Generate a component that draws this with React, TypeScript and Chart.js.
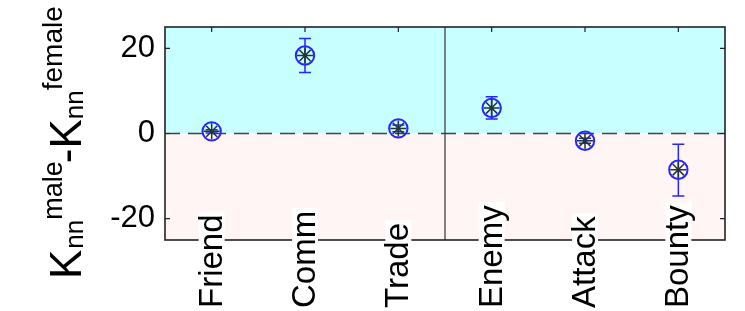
import React, { useEffect, useRef } from 'react';
import { Chart, registerables } from 'chart.js';
Chart.register(...registerables);

const categories = ['Friend', 'Comm', 'Trade', 'Enemy', 'Attack', 'Bounty'];
const positions = [1, 2, 3, 4, 5, 6];
const values = [0.5, 18.3, 1.2, 6.0, -1.7, -8.5];
const errLow = [0.1, 14.3, 0.4, 3.4, -2.3, -14.7];
const errHigh = [0.9, 22.3, 2.0, 8.6, -1.1, -2.5];
const yTicks = [-20, 0, 20];
const groupSplit = 3.5;

const FONT = '"Liberation Sans", Arial, Helvetica, sans-serif';
const BLUE = '#2626ff';

const decor = {
  id: 'decor',
  beforeDraw(chart: any) {
    const { ctx, chartArea: a, scales } = chart;
    const x = scales.x, y = scales.y;
    const y0 = y.getPixelForValue(0);
    const w = a.right - a.left;
    ctx.save();
    ctx.fillStyle = '#c8ffff';
    ctx.fillRect(a.left, a.top, w, y0 - a.top);
    ctx.fillStyle = '#fff5f5';
    ctx.fillRect(a.left, y0, w, a.bottom - y0);
    ctx.strokeStyle = '#444';
    ctx.lineWidth = 1.5;
    ctx.setLineDash([15, 8]);
    ctx.beginPath();
    ctx.moveTo(a.left, y0);
    ctx.lineTo(a.right, y0);
    ctx.stroke();
    ctx.setLineDash([]);
    const xs = x.getPixelForValue(groupSplit);
    ctx.strokeStyle = '#333';
    ctx.lineWidth = 1.2;
    ctx.beginPath();
    ctx.moveTo(xs, a.top);
    ctx.lineTo(xs, a.bottom);
    ctx.stroke();
    ctx.strokeStyle = '#222';
    ctx.lineWidth = 1.6;
    ctx.strokeRect(a.left, a.top, w, a.bottom - a.top);
    ctx.lineWidth = 1.2;
    ctx.beginPath();
    yTicks.forEach((v) => {
      const py = y.getPixelForValue(v);
      ctx.moveTo(a.left, py); ctx.lineTo(a.left + 5, py);
      ctx.moveTo(a.right, py); ctx.lineTo(a.right - 5, py);
    });
    positions.forEach((p) => {
      const px = x.getPixelForValue(p);
      ctx.moveTo(px, a.top); ctx.lineTo(px, a.top + 5);
      ctx.moveTo(px, a.bottom); ctx.lineTo(px, a.bottom - 5);
    });
    ctx.stroke();
    ctx.restore();
  },
  beforeDatasetsDraw(chart: any) {
    const { ctx, scales } = chart;
    const x = scales.x, y = scales.y;
    ctx.save();
    ctx.strokeStyle = BLUE;
    ctx.lineWidth = 1.5;
    positions.forEach((p, i) => {
      const px = x.getPixelForValue(p);
      const lo = y.getPixelForValue(errLow[i]);
      const hi = y.getPixelForValue(errHigh[i]);
      ctx.beginPath();
      ctx.moveTo(px, lo); ctx.lineTo(px, hi);
      ctx.moveTo(px - 6, lo); ctx.lineTo(px + 6, lo);
      ctx.moveTo(px - 6, hi); ctx.lineTo(px + 6, hi);
      ctx.stroke();
    });
    ctx.restore();
  },
  afterDraw(chart: any) {
    const { ctx, scales } = chart;
    const x = scales.x;
    ctx.save();
    ctx.font = `33px ${FONT}`;
    ctx.textBaseline = 'middle';
    ctx.textAlign = 'left';
    categories.forEach((c, i) => {
      const px = x.getPixelForValue(positions[i]);
      const tw = ctx.measureText(c).width;
      ctx.save();
      ctx.translate(px, 308);
      ctx.rotate(-Math.PI / 2);
      ctx.fillStyle = '#fff';
      ctx.fillRect(-2, -13, tw + 5, 26);
      ctx.fillStyle = '#000';
      ctx.fillText(c, 0, 1);
      ctx.restore();
    });
    const parts = [
      { t: 'K', s: 44, dy: 0, g: 1 },
      { t: 'nn', s: 26, dy: 2, g: 0 },
      { t: 'male', s: 27, dy: -19, g: -2 },
      { t: '-', s: 44, dy: 0, g: 0 },
      { t: 'K', s: 44, dy: 0, g: 0 },
      { t: 'nn', s: 26, dy: 2, g: 0 },
      { t: 'female', s: 28, dy: -19, g: 0 },
    ];
    ctx.translate(81, 279);
    ctx.rotate(-Math.PI / 2);
    ctx.textBaseline = 'alphabetic';
    ctx.fillStyle = '#000';
    let tx = 0;
    parts.forEach((p) => {
      ctx.font = `${p.s}px ${FONT}`;
      ctx.fillText(p.t, tx, p.dy);
      tx += ctx.measureText(p.t).width + p.g;
    });
    ctx.restore();
  },
};

export default function App() {
  const ref = useRef<HTMLCanvasElement>(null);
  useEffect(() => {
    if (!ref.current) return;
    const pts = positions.map((p, i) => ({ x: p, y: values[i] }));
    const chart = new Chart(ref.current, {
      type: 'scatter',
      data: {
        datasets: [
          {
            data: pts,
            pointStyle: 'circle',
            pointRadius: 9.2,
            borderColor: BLUE,
            borderWidth: 2,
            backgroundColor: 'rgba(0,0,0,0)',
            showLine: false,
          } as any,
          {
            data: pts,
            pointStyle: 'star',
            pointRadius: 8,
            borderColor: '#253535',
            borderWidth: 1.5,
            backgroundColor: 'rgba(0,0,0,0)',
            showLine: false,
          } as any,
        ],
      },
      options: {
        responsive: false,
        devicePixelRatio: 1,
        animation: false,
        events: [],
        layout: { padding: { top: 27, right: 20, bottom: 71, left: 0 } },
        plugins: { legend: { display: false }, tooltip: { enabled: false } },
        scales: {
          x: { type: 'linear', min: 0.5, max: 6.5, display: false },
          y: {
            type: 'linear',
            min: -25,
            max: 25,
            grid: { display: false, drawTicks: false },
            border: { display: false },
            ticks: { font: { size: 31, family: FONT }, color: '#000', padding: 10 },
            afterBuildTicks: (s: any) => {
              s.ticks = yTicks.map((v) => ({ value: v }));
            },
            afterFit: (s: any) => {
              s.width = 165;
              s.paddingTop = 0;
              s.paddingBottom = 0;
            },
          } as any,
        },
      },
      plugins: [decor],
    });
    return () => chart.destroy();
  }, []);
  return (
    <div style={{ position: 'absolute', left: 0, top: 0, width: 745, height: 311, background: '#fff' }}>
      <canvas ref={ref} width={745} height={311} />
    </div>
  );
}
